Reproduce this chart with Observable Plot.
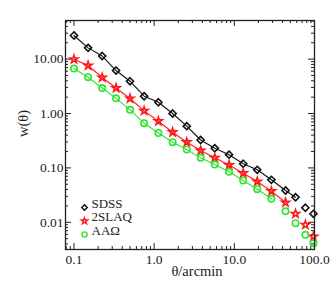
<!DOCTYPE html>
<html>
<head>
<meta charset="utf-8">
<script src="https://cdn.jsdelivr.net/npm/d3@7"></script>
<script src="https://cdn.jsdelivr.net/npm/@observablehq/plot@0.6"></script>
<style>
  html, body { margin: 0; padding: 0; background: #fff; }
  #chart { width: 334px; height: 292px; }
</style>
</head>
<body>
<div id="chart"></div>
<script>
// ---- data ----
const theta = [0.1, 0.15, 0.225, 0.335, 0.5, 0.75, 1.13, 1.7, 2.55, 3.8, 5.7, 8.6, 12.9, 19.3, 29, 43.5, 58, 77, 97];
const sdss  = [27.2, 16.1, 11.4, 6.17, 3.92, 2.08, 1.61, 1.00, 0.585, 0.326, 0.230, 0.175, 0.119, 0.0922, 0.0604, 0.0385, 0.0289, 0.0185, 0.0143];
const slaq  = [9.92, 7.63, 4.59, 2.94, 1.89, 1.12, 0.722, 0.453, 0.297, 0.209, 0.153, 0.113, 0.080, 0.0562, 0.0373, 0.0231, 0.0143, 0.0090, 0.00548];
const aao   = [6.71, 4.65, 2.94, 1.90, 1.17, 0.663, 0.438, 0.297, 0.218, 0.153, 0.115, 0.0848, 0.0587, 0.0406, 0.0270, 0.0159, 0.0096, 0.00589, 0.00413];
// number of bins covered by each fitted line
const lineBins = {sdss: 17, slaq: 16, aao: 15};

const seriesNames = ["SDSS", "2SLAQ", "AAΩ"];
const xTicks = [0.1, 1, 10, 100];
const yTicks = [0.01, 0.1, 1, 10];
const xLabel = "θ/arcmin";
const yLabel = "w(θ)";

// ---- layout / style ----
const W = 334, H = 292, mL = 65, mR = 20, mT = 20, mB = 43;
const pw = W - mL - mR, ph = H - mT - mB;
const green = "#2ee62e", red = "#ff1a1a", black = "#111";
const font = "'Liberation Serif', 'Times New Roman', serif";

const rows = theta.map((t, i) => ({t, sdss: sdss[i], slaq: slaq[i], aao: aao[i]}));

function minorTicks(lo, hi) {
  const out = [];
  for (let e = lo; e < hi; e++) for (let k = 2; k <= 9; k++) out.push(k * Math.pow(10, e));
  return out;
}
const xMinor = minorTicks(-2, 2).filter(v => v > 0.0784 && v < 100);
const yMinor = minorTicks(-3, 2).filter(v => v > 0.00316 && v < 51);

const series = [
  {key: "sdss", name: seriesNames[0], color: black, symbol: "diamond2", r: 3.2, lr: 2.5},
  {key: "slaq", name: seriesNames[1], color: red, symbol: "star", r: 2.5, lr: 2.0},
  {key: "aao", name: seriesNames[2], color: green, symbol: "circle", r: 3.2, lr: 2.6}
];

const marks = [];
// inward ticks on all four sides
const tickStyle = {stroke: "#222", strokeWidth: 1};
marks.push(Plot.tickX(xTicks, {x: d => d, insetTop: ph - 6, ...tickStyle}));
marks.push(Plot.tickX(xTicks, {x: d => d, insetBottom: ph - 6, ...tickStyle}));
marks.push(Plot.tickX(xMinor, {x: d => d, insetTop: ph - 3, ...tickStyle}));
marks.push(Plot.tickX(xMinor, {x: d => d, insetBottom: ph - 3, ...tickStyle}));
marks.push(Plot.tickY(yTicks, {y: d => d, insetRight: pw - 6, ...tickStyle}));
marks.push(Plot.tickY(yTicks, {y: d => d, insetLeft: pw - 6, ...tickStyle}));
marks.push(Plot.tickY(yMinor, {y: d => d, insetRight: pw - 3, ...tickStyle}));
marks.push(Plot.tickY(yMinor, {y: d => d, insetLeft: pw - 3, ...tickStyle}));

// tick labels
marks.push(Plot.axisX({ticks: xTicks, tickSize: 0, tickPadding: 5, tickFormat: d3.format(".1f"), fontSize: 13.5, label: null}));
marks.push(Plot.axisY({ticks: yTicks, tickSize: 0, tickPadding: 2, tickFormat: d3.format(".2f"), fontSize: 13.5, label: null}));

// fitted lines and points
for (const s of series) {
  marks.push(Plot.line(rows.slice(0, lineBins[s.key]), {x: "t", y: s.key, stroke: s.color, strokeWidth: 1.1}));
  marks.push(Plot.dot(rows, {x: "t", y: s.key, symbol: s.symbol, r: s.r, stroke: s.color, strokeWidth: 1.6, fill: "none"}));
}

// legend inside the frame (bottom-left)
series.forEach((s, i) => {
  const dy = -42 + 13.5 * i;
  marks.push(Plot.dot([s.name], {frameAnchor: "bottom-left", dx: 19, dy, symbol: s.symbol, r: s.lr, stroke: s.color, strokeWidth: 1.4, fill: "none"}));
  marks.push(Plot.text([s.name], {frameAnchor: "bottom-left", dx: 26, dy, text: d => d, textAnchor: "start", fontSize: 13, fill: "#222"}));
});

// axis titles
marks.push(Plot.text([xLabel], {frameAnchor: "bottom", dy: 26, dx: 7, text: d => d, fontSize: 14.5, fill: "#222"}));
marks.push(Plot.text([yLabel], {frameAnchor: "left", dx: -42, dy: 2, rotate: -90, text: d => d, fontSize: 14.5, fill: "#222"}));

marks.push(Plot.frame({stroke: "#222", strokeWidth: 1.3}));

const chart = Plot.plot({
  width: W, height: H,
  marginLeft: mL, marginRight: mR, marginTop: mT, marginBottom: mB,
  style: {fontFamily: font, fontSize: "13.5px", color: "#222", background: "#fff"},
  x: {type: "log", domain: [0.0784, 100], axis: null},
  y: {type: "log", domain: [0.00316, 51.3], axis: null},
  marks
});
document.getElementById("chart").appendChild(chart);
</script>
</body>
</html>
